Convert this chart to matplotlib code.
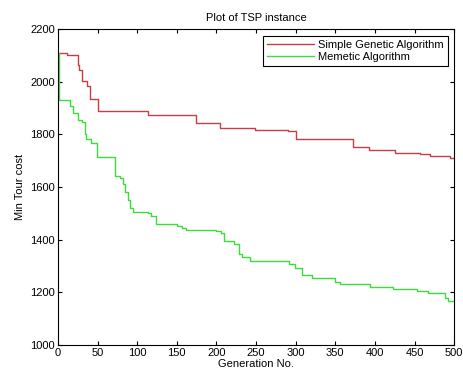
import matplotlib
matplotlib.use("Agg")
import matplotlib.pyplot as plt

# step breakpoints
sga_gen = [0, 11, 25, 27, 30, 37, 40, 51, 114, 174, 204, 249, 290, 301,
           372, 392, 425, 457, 470, 495, 500]
sga_cost = [2108, 2100, 2064, 2045, 2001, 1982, 1936, 1890, 1872, 1844, 1826,
            1816, 1812, 1781, 1752, 1741, 1731, 1724, 1718, 1712, 1712]

ma_gen = [0, 1, 2, 15, 19, 26, 30, 34, 36, 42, 49, 72, 78, 82, 85, 88, 91, 95,
          114, 118, 124, 150, 156, 162, 200, 206, 210, 222, 228, 232, 242, 291,
          299, 308, 320, 350, 356, 394, 423, 453, 467, 488, 492, 500]
ma_cost = [2108, 2000, 1932, 1907, 1882, 1854, 1847, 1800, 1781, 1766, 1714,
           1643, 1635, 1610, 1580, 1551, 1520, 1505, 1500, 1490, 1458, 1452,
           1445, 1437, 1432, 1424, 1395, 1385, 1345, 1335, 1318, 1308, 1293,
           1267, 1256, 1241, 1232, 1222, 1213, 1206, 1198, 1180, 1168, 1168]

plt.rcParams['font.family'] = ['Liberation Sans', 'DejaVu Sans']

fig = plt.figure(figsize=(4.63, 3.76), dpi=100)
ax = fig.add_axes([0.125, 0.082, 0.856, 0.841])

ax.plot(sga_gen, sga_cost, drawstyle='steps-post', color='#c83c46', lw=1.0,
        label='Simple Genetic Algorithm')
ax.plot(ma_gen, ma_cost, drawstyle='steps-post', color='#3cdc3c', lw=1.0,
        label='Memetic Algorithm')

ax.set_xlim(0, 500)
ax.set_ylim(1000, 2200)
ax.set_xticks(range(0, 501, 50))
ax.set_yticks(range(1000, 2201, 200))
ax.tick_params(direction='in', top=True, right=True, labelsize=8, length=3,
               pad=2)
for s in ax.spines.values():
    s.set_linewidth(0.8)

ax.set_title('Plot of TSP instance', fontsize=8, pad=6)
ax.set_xlabel('Generation No.', fontsize=8, labelpad=1)
ax.set_ylabel('Min Tour cost', fontsize=8, labelpad=4)

leg = ax.legend(loc='upper right', fontsize=8, handlelength=4.2,
                fancybox=False, edgecolor='black', framealpha=1,
                borderaxespad=0.6, labelspacing=0.2, handletextpad=0.4,
                borderpad=0.35)
leg.get_frame().set_linewidth(0.8)

fig.savefig('out.png', dpi=100)
